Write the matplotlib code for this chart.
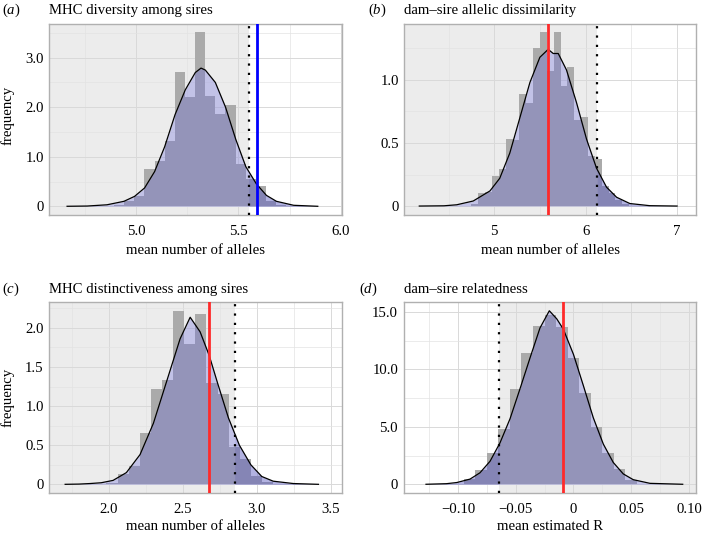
import numpy as np
import matplotlib
matplotlib.use('Agg')
import matplotlib.pyplot as plt
from matplotlib.ticker import FixedLocator

plt.rcParams['font.family'] = ['Liberation Serif', 'DejaVu Serif']
plt.rcParams['mathtext.fontset'] = 'custom'
plt.rcParams['mathtext.rm'] = 'Liberation Serif'
plt.rcParams['mathtext.it'] = 'Liberation Serif:italic'

# ---------------- data ----------------
# (a) MHC diversity among sires
a_bin_left = [4.892, 4.9415, 4.991, 5.0405, 5.09, 5.1395, 5.189, 5.2385, 5.288,
              5.3375, 5.387, 5.4365, 5.486, 5.5355, 5.585, 5.6345, 5.684]
a_bin_width = 0.0495
a_heights = [0.03, 0.10, 0.20, 0.76, 0.92, 1.32, 2.72, 2.20, 3.52,
             2.22, 1.86, 2.05, 0.85, 0.56, 0.41, 0.11, 0.02]
a_dens_x = [4.662, 4.76, 4.857, 4.94, 4.992, 5.041, 5.09, 5.139, 5.19, 5.24, 5.289,
            5.317, 5.338, 5.387, 5.437, 5.487, 5.536, 5.588, 5.637, 5.686, 5.77, 5.888]
a_dens_y = [0, 0.005, 0.03, 0.10, 0.20, 0.37, 0.70, 1.20, 1.85, 2.35, 2.70,
            2.79, 2.75, 2.50, 2.00, 1.35, 0.80, 0.45, 0.22, 0.10, 0.02, 0]
a_dotted = 5.550
a_observed = 5.591

# (b) dam-sire allelic dissimilarity
b_bin_left = [4.75, 4.825, 4.9, 4.975, 5.05, 5.125, 5.2, 5.275, 5.35, 5.425, 5.5, 5.575,
              5.65, 5.725, 5.8, 5.875, 5.95, 6.025, 6.1, 6.175, 6.25, 6.325, 6.4]
b_bin_width = 0.075
b_heights = [0.02, 0.10, 0.11, 0.24, 0.29, 0.53, 0.52, 0.89, 0.82, 1.25, 1.38, 1.07,
             1.38, 0.95, 1.10, 0.68, 0.71, 0.40, 0.37, 0.16, 0.10, 0.05, 0.02]
b_dens_x = [4.18, 4.45, 4.589, 4.77, 4.953, 5.06, 5.17, 5.28, 5.39, 5.499, 5.59, 5.645,
            5.70, 5.79, 5.90, 6.01, 6.119, 6.228, 6.338, 6.483, 6.70, 7.0]
b_dens_y = [0, 0.002, 0.01, 0.04, 0.12, 0.22, 0.42, 0.70, 0.98, 1.18, 1.243, 1.21,
            1.21, 1.08, 0.82, 0.53, 0.30, 0.15, 0.07, 0.02, 0.003, 0]
b_dotted = 6.126
b_observed = 5.59

# (c) MHC distinctiveness among sires
c_bin_left = [1.985, 2.06, 2.135, 2.21, 2.285, 2.36, 2.435, 2.51, 2.585, 2.66,
              2.735, 2.81, 2.885, 2.96, 3.035]
c_bin_width = 0.075
c_heights = [0.02, 0.13, 0.23, 0.65, 1.22, 1.34, 2.22, 1.80, 2.18, 1.29,
             1.15, 0.48, 0.33, 0.10, 0.03]
c_dens_x = [1.707, 1.80, 1.875, 1.95, 2.03, 2.12, 2.212, 2.302, 2.392, 2.482, 2.55,
            2.617, 2.678, 2.734, 2.808, 2.882, 2.959, 3.033, 3.11, 3.246, 3.415]
c_dens_y = [0, 0.003, 0.01, 0.02, 0.05, 0.15, 0.38, 0.78, 1.32, 1.86, 2.136,
            1.95, 1.65, 1.30, 0.85, 0.50, 0.25, 0.10, 0.04, 0.01, 0]
c_dotted = 2.850
c_observed = 2.678

# (d) dam-sire relatedness
d_bin_left = [-0.095, -0.085, -0.075, -0.065, -0.055, -0.045, -0.035, -0.025,
              -0.015, -0.005, 0.005, 0.015, 0.025, 0.035, 0.045]
d_bin_width = 0.01
d_heights = [0.5, 1.24, 2.7, 4.8, 8.27, 11.4, 13.8, 14.7,
             13.7, 11.0, 7.98, 5.0, 2.7, 1.3, 0.4]
d_dens_x = [-0.1276, -0.11, -0.101, -0.0895, -0.0809, -0.0722, -0.0636, -0.0549,
            -0.0463, -0.0376, -0.029, -0.0209, -0.0145, -0.0088, 0.0, 0.0085,
            0.0171, 0.0258, 0.0344, 0.0431, 0.0517, 0.0662, 0.0945]
d_dens_y = [0, 0.05, 0.15, 0.45, 1.0, 2.0, 3.6, 5.7, 8.3, 11.0, 13.6, 15.1, 14.4,
            13.5, 11.3, 8.6, 5.8, 3.5, 1.9, 0.9, 0.4, 0.08, 0]
d_dotted = -0.0642
d_observed = -0.0094

titles = ['MHC diversity among sires', 'dam\u2013sire allelic dissimilarity',
          'MHC distinctiveness among sires', 'dam\u2013sire relatedness']
letters = ['a', 'b', 'c', 'd']
xlabels = ['mean number of alleles', 'mean number of alleles',
           'mean number of alleles', 'mean estimated R']

# ---------------- style ----------------
W, H = 702, 538
fig = plt.figure(figsize=(W / 100, H / 100), dpi=100)

BG_GREY = '#ececec'
BAR_GREY = '#aaaaaa'
FILL = (100 / 255, 100 / 255, 220 / 255)
TAIL = (90 / 255, 90 / 255, 170 / 255)
FS = 10.6


def px_axes(l, t, r, b):
    return fig.add_axes([l / W, 1 - b / H, (r - l) / W, (b - t) / H])


def panel(ax, bin_left, width, heights, dx, dy, dotted, observed, obs_color,
          xlim, ylim, xmaj, xmin, ymaj, ymin, xlabs, ylabs, grey_left):
    ax.set_xlim(*xlim)
    ax.set_ylim(*ylim)
    if grey_left:
        ax.axvspan(xlim[0], dotted, color=BG_GREY, zorder=0, lw=0)
    else:
        ax.axvspan(dotted, xlim[1], color=BG_GREY, zorder=0, lw=0)
    ax.xaxis.set_major_locator(FixedLocator(xmaj))
    ax.xaxis.set_minor_locator(FixedLocator(xmin))
    ax.yaxis.set_major_locator(FixedLocator(ymaj))
    ax.yaxis.set_minor_locator(FixedLocator(ymin))
    ax.set_xticklabels(xlabs)
    ax.set_yticklabels(ylabs)
    ax.grid(True, which='major', color='#d9d9d9', lw=0.7, zorder=1)
    ax.grid(True, which='minor', color='#e3e3e3', lw=0.5, zorder=1)
    ax.set_axisbelow(True)
    ax.tick_params(which='both', length=0, labelsize=FS)
    ax.tick_params(axis='x', pad=7)
    ax.tick_params(axis='y', pad=4)
    for s in ax.spines.values():
        s.set_color('#b0b0b0')
        s.set_linewidth(1.0)
    ax.bar(bin_left, heights, width=width, align='edge', color=BAR_GREY,
           lw=0, zorder=2)
    dx = np.asarray(dx)
    dy = np.asarray(dy)
    ax.fill_between(dx, 0, dy, color=FILL, alpha=0.3, lw=0, zorder=3)
    # darker tail beyond the dotted threshold
    yd = np.interp(dotted, dx, dy)
    if grey_left:
        m = dx > dotted
        tx = np.concatenate([[dotted], dx[m]])
        ty = np.concatenate([[yd], dy[m]])
    else:
        m = dx < dotted
        tx = np.concatenate([dx[m], [dotted]])
        ty = np.concatenate([dy[m], [yd]])
    ax.fill_between(tx, 0, ty, color=TAIL, alpha=0.25, lw=0, zorder=3)
    ax.plot(dx, dy, color='black', lw=0.9, zorder=4)
    ax.axvline(dotted, color='black', lw=1.6, ls=(0, (1, 3.2)), zorder=5)
    ax.axvline(observed, color=obs_color, lw=2.0, zorder=5)


axA = px_axes(49.3, 24, 341.7, 215)
axB = px_axes(404.3, 24, 696, 215)
axC = px_axes(49.3, 301.7, 341.7, 493)
axD = px_axes(403.7, 301.7, 696, 493)

panel(axA, a_bin_left, a_bin_width, a_heights, a_dens_x, a_dens_y, a_dotted,
      a_observed, '#0000ff', (4.575, 6.005), (-0.176, 3.68),
      [5.0, 5.5, 6.0], [4.75, 5.25, 5.75], [0, 1, 2, 3], [0.5, 1.5, 2.5, 3.5],
      ['5.0', '5.5', '6.0'], ['0', '1.0', '2.0', '3.0'], True)
panel(axB, b_bin_left, b_bin_width, b_heights, b_dens_x, b_dens_y, b_dotted,
      b_observed, '#ff2a2a', (4.016, 7.207), (-0.071, 1.444),
      [5, 6, 7], [4.5, 5.5, 6.5], [0, 0.5, 1.0], [0.25, 0.75, 1.25],
      ['5', '6', '7'], ['0', '0.5', '1.0'], True)
panel(axC, c_bin_left, c_bin_width, c_heights, c_dens_x, c_dens_y, c_dotted,
      c_observed, '#ff2a2a', (1.60, 3.572), (-0.111, 2.335),
      [2.0, 2.5, 3.0, 3.5], [1.75, 2.25, 2.75, 3.25],
      [0, 0.5, 1.0, 1.5, 2.0], [0.25, 0.75, 1.25, 1.75, 2.25],
      ['2.0', '2.5', '3.0', '3.5'], ['0', '0.5', '1.0', '1.5', '2.0'], True)
panel(axD, d_bin_left, d_bin_width, d_heights, d_dens_x, d_dens_y, d_dotted,
      d_observed, '#ff2a2a', (-0.1469, 0.106), (-0.76, 15.89),
      [-0.10, -0.05, 0, 0.05, 0.10], [-0.125, -0.075, -0.025, 0.025, 0.075],
      [0, 5, 10, 15], [2.5, 7.5, 12.5],
      ['\u22120.10', '\u22120.05', '0', '0.05', '0.10'], ['0', '5.0', '10.0', '15.0'], False)

# titles and panel letters
title_pos = [(1.7, 49.3, 14), (367.7, 404.3, 14), (1.7, 49.3, 293), (359.3, 404.3, 293)]
for (lx, tx, by), let, tt in zip(title_pos, letters, titles):
    fig.text(lx / W, 1 - by / H, r'$(\mathit{%s})$' % let, fontsize=FS,
             va='baseline', ha='left')
    fig.text(tx / W, 1 - by / H, tt, fontsize=FS, va='baseline', ha='left')

# x labels
for ax, xl, cy in zip([axA, axB, axC, axD], xlabels, [251, 251, 526, 526]):
    bb = ax.get_position()
    fig.text((bb.x0 + bb.x1) / 2, 1 - cy / H, xl, fontsize=FS, ha='center', va='center')

# y labels
for cy in [115, 397]:
    fig.text(8 / W, 1 - cy / H, 'frequency', fontsize=FS, rotation=90,
             ha='center', va='center')

fig.savefig('out.png', dpi=100)
